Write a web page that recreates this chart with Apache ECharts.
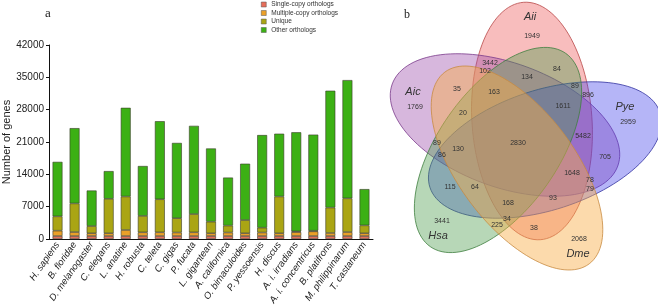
<!DOCTYPE html>
<html>
<head>
<meta charset="utf-8">
<script src="https://cdn.jsdelivr.net/npm/echarts@6/dist/echarts.min.js"></script>
<style>
  html, body { margin: 0; padding: 0; background: #fff; }
  #chart { width: 658px; height: 306px; }
</style>
</head>
<body>
<div id="chart"></div>
<script>
// panel a: gene families per species
const species = ["H. sapiens", "B. floridae", "D. melanogaster", "C. elegans", "L. anatine", "H. robusta",
  "C. teleta", "C. gigas", "P. fucata", "L. gigantean", "A. californica", "O. bimaculoides",
  "P. yessoensis", "H. discus", "A. i. irradians", "A. i. concentricus", "B. platifrons",
  "M. philippinarum", "T. castaneum"];
const singleCopy = [650, 650, 650, 650, 650, 650, 650, 650, 650, 650, 650, 650, 650, 650, 650, 650, 650, 650, 650];
const multipleCopy = [1150, 850, 600, 600, 1300, 800, 800, 750, 800, 600, 750, 600, 750, 600, 850, 1000, 650, 850, 600];
const uniqueGenes = [3100, 6200, 1550, 7450, 7250, 3550, 7150, 3100, 3950, 2500, 1500, 2850, 1050, 7950, 150, 150, 5500, 7300, 1700];
const otherOrthologs = [11800, 16300, 7700, 6000, 19200, 10800, 16900, 16300, 19100, 15850, 10400, 12200, 20050, 13600, 21450, 20800, 25300, 25600, 7850];
const yMax = 42000;
const yStep = 7000;

// panel b: venn diagram
const vennSets = ["Aii", "Aic", "Pye", "Hsa", "Dme"];
const vennCounts = [1949, 3442, 102, 84, 134, 35, 163, 89, 896, 1769, 20, 1611, 2959, 5482, 2830,
  89, 130, 86, 705, 1648, 78, 79, 115, 64, 168, 93, 3441, 225, 34, 38, 2068];

// layout of the venn (pixel space of the right panel)
const vennShapes = [
  // cx, cy, semi-major, semi-minor, angle
  [532, 121, 119, 60, 94],
  [505, 125, 120, 62, -20],
  [545, 150, 121, 60, 18],
  [498, 150, 118, 60, 55],
  [517, 168, 120, 58, -53]
];
const vennFill = ["rgba(238,90,90,0.4)", "rgba(155,75,170,0.4)", "rgba(60,60,235,0.38)", "rgba(75,155,75,0.4)", "rgba(248,172,72,0.45)"];
const vennStroke = ["#b84848", "#7a3a8a", "#3434a0", "#3f7f3f", "#c88a40"];
const setLabelPos = [[530, 17], [413, 92], [625, 107], [438, 236], [578, 254]];
const countPos = [[532, 36], [490, 63], [485, 71], [557, 69], [527, 77], [457, 89], [494, 92], [575, 86],
  [588, 95], [415, 107], [463, 113], [563, 106], [628, 122], [583, 136], [518, 143], [437, 143], [458, 149],
  [442, 155], [605, 157], [572, 173], [590, 180], [590, 189], [450, 187], [475, 187], [508, 203], [553, 198],
  [442, 221], [497, 225], [507, 219], [534, 228], [579, 239]];

const colors = ["#e66e5a", "#eba028", "#aaa514", "#3cb014"];
const names = ["Single-copy orthologs", "Multiple-copy orthologs", "Unique", "Other orthologs"];
const values = [singleCopy, multipleCopy, uniqueGenes, otherOrthologs];

const chart = echarts.init(document.getElementById("chart"));
const font = "Liberation Sans, Arial, sans-serif";

const barSeries = names.map((n, i) => ({
  name: n,
  type: "bar",
  stack: "total",
  xAxisIndex: 0,
  yAxisIndex: 0,
  barWidth: "58%",
  data: values[i],
  itemStyle: { color: colors[i], borderColor: "#3a3a2a", borderWidth: 0.6 },
  emphasis: { disabled: true }
}));

function renderEllipse(params, api) {
  const cx = api.value(0), cy = api.value(1), a = api.value(2), b = api.value(3);
  const ang = api.value(4) * Math.PI / 180;
  const pts = [];
  for (let i = 0; i < 120; i++) {
    const t = i / 120 * Math.PI * 2;
    const ux = a * Math.cos(t), vy = b * Math.sin(t);
    const x = cx + ux * Math.cos(ang) - vy * Math.sin(ang);
    const yUp = ux * Math.sin(ang) + vy * Math.cos(ang);
    pts.push(api.coord([x, cy - yUp]));
  }
  return {
    type: "polygon",
    shape: { points: pts },
    style: { fill: vennFill[params.dataIndex], stroke: vennStroke[params.dataIndex], lineWidth: 0.8 }
  };
}

function textRenderer(size, italic) {
  return function (params, api) {
    const p = api.coord([api.value(0), api.value(1)]);
    return {
      type: "text",
      x: p[0],
      y: p[1],
      style: {
        text: String(api.value(2)),
        fill: "#333",
        font: (italic ? "italic " : "") + size + "px " + font,
        align: "center",
        verticalAlign: "middle"
      }
    };
  };
}

chart.setOption({
  animation: false,
  title: [
    { text: "a", left: 40, top: 2, textStyle: { fontFamily: "Liberation Serif, serif", fontSize: 13, fontWeight: "normal", color: "#222" } },
    { text: "b", left: 399, top: 4, textStyle: { fontFamily: "Liberation Serif, serif", fontSize: 12, fontWeight: "normal", color: "#222" } }
  ],
  legend: {
    data: names,
    orient: "vertical",
    left: 261,
    top: 1,
    padding: 0,
    itemWidth: 5,
    itemHeight: 5,
    itemGap: 1.5,
    icon: "rect",
    itemStyle: { borderWidth: 0.5, borderColor: "#555" },
    textStyle: { fontSize: 6.5, color: "#333", fontFamily: font }
  },
  grid: [
    { left: 49, top: 45, width: 324, bottom: 67, outerBoundsMode: "none", containLabel: false },
    { left: 330, top: 0, width: 328, height: 306, outerBoundsMode: "none", containLabel: false }
  ],
  xAxis: [
    {
      type: "category",
      gridIndex: 0,
      data: species,
      axisLine: { lineStyle: { color: "#111", width: 1 } },
      axisTick: { length: 3, lineStyle: { color: "#111" } },
      axisLabel: { rotate: 55, fontSize: 9.5, fontStyle: "italic", color: "#222", fontFamily: font, margin: 4, interval: 0 }
    },
    { type: "value", gridIndex: 1, min: 330, max: 658, show: false }
  ],
  yAxis: [
    {
      type: "value",
      gridIndex: 0,
      min: 0,
      max: yMax,
      interval: yStep,
      name: "Number of genes",
      nameLocation: "middle",
      nameGap: 37,
      nameTextStyle: { fontSize: 11, color: "#222", fontFamily: font },
      splitLine: { show: false },
      axisLine: { show: true, lineStyle: { color: "#111", width: 1 } },
      axisTick: { show: true, length: 3, lineStyle: { color: "#111" } },
      axisLabel: { fontSize: 10, color: "#222", fontFamily: font, margin: 5, formatter: (v) => String(v) }
    },
    { type: "value", gridIndex: 1, min: 0, max: 306, inverse: true, show: false }
  ],
  series: barSeries.concat([
    {
      type: "custom",
      xAxisIndex: 1,
      yAxisIndex: 1,
      renderItem: renderEllipse,
      data: vennShapes,
      silent: true
    },
    {
      type: "custom",
      xAxisIndex: 1,
      yAxisIndex: 1,
      renderItem: textRenderer(7, false),
      data: vennCounts.map((c, i) => [countPos[i][0], countPos[i][1], c]),
      silent: true,
      z: 5
    },
    {
      type: "custom",
      xAxisIndex: 1,
      yAxisIndex: 1,
      renderItem: textRenderer(11, true),
      data: vennSets.map((s, i) => [setLabelPos[i][0], setLabelPos[i][1], s]),
      silent: true,
      z: 5
    }
  ])
});
</script>
</body>
</html>
